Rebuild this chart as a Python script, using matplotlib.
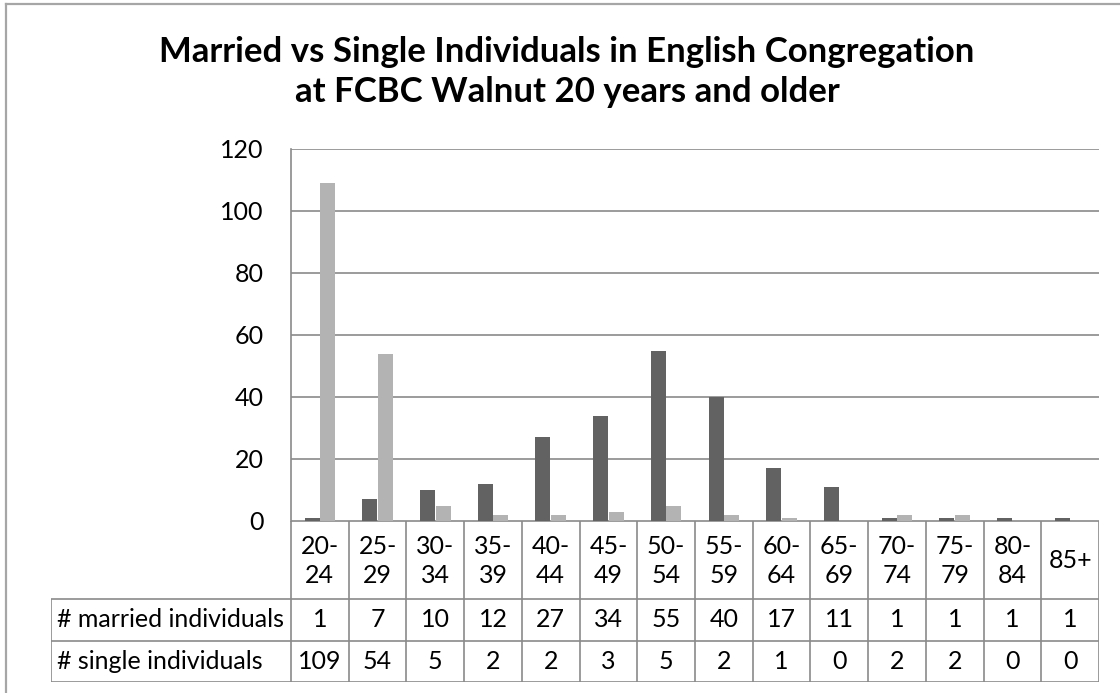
import matplotlib
matplotlib.use("Agg")
import matplotlib.pyplot as plt
from matplotlib.lines import Line2D

plt.rcParams['font.family'] = ['Lato', 'DejaVu Sans']

categories = ["20-\n24", "25-\n29", "30-\n34", "35-\n39", "40-\n44", "45-\n49", "50-\n54",
              "55-\n59", "60-\n64", "65-\n69", "70-\n74", "75-\n79", "80-\n84", "85+"]
married = [1, 7, 10, 12, 27, 34, 55, 40, 17, 11, 1, 1, 1, 1]
single = [109, 54, 5, 2, 2, 3, 5, 2, 1, 0, 2, 2, 0, 0]
series_names = ["# married individuals", "# single individuals"]
yticks = [0, 20, 40, 60, 80, 100, 120]
title = "Married vs Single Individuals in English Congregation\nat FCBC Walnut 20 years and older"

W, H = 1120, 693
fig = plt.figure(figsize=(W / 100, H / 100), dpi=100)
fig.patch.set_facecolor("white")

def rect(x0, y0, x1, y1):
    # pixel coords (top-left origin) -> figure fraction
    return [x0 / W, 1 - y1 / H, (x1 - x0) / W, (y1 - y0) / H]

GRID = "#8a8a8a"
DARK = "#626262"
LIGHT = "#b3b3b3"
FS = 18

# outer chart border
fig.add_artist(Line2D([6 / W, 6 / W], [0, 1 - 4 / H], transform=fig.transFigure, color="#a6a6a6", lw=1.6))
fig.add_artist(Line2D([6 / W, 1], [1 - 4 / H, 1 - 4 / H], transform=fig.transFigure, color="#a6a6a6", lw=1.6))

# plot area
px0, py0, px1, py1 = 291, 149, 1099, 521
ax = fig.add_axes(rect(px0, py0, px1, py1))
n = len(categories)
ax.set_xlim(0, n)
ax.set_ylim(0, 120)
bw = 0.26
xs = [i + 0.5 for i in range(n)]
ax.bar([x - 0.135 for x in xs], married, width=bw, color=DARK, zorder=3)
ax.bar([x + 0.135 for x in xs], single, width=bw, color=LIGHT, zorder=3)
ax.set_yticks(yticks)
ax.set_yticklabels([str(t) for t in yticks], fontsize=FS)
ax.tick_params(axis="y", length=0, pad=19.5)
ax.set_xticks([])
ax.grid(axis="y", color=GRID, lw=1.2, zorder=0)
for s in ["top", "right", "bottom"]:
    ax.spines[s].set_visible(False)
ax.spines["left"].set_color(GRID)
ax.spines["left"].set_linewidth(1.2)

# data table
tx0, tx1 = 51, 1099
ty0, ty1, ty2, ty3 = 521, 599, 641, 682
tab = fig.add_axes(rect(tx0, ty0, tx1, ty3))
colw = (px1 - px0) / n
lab_w = (px0 - tx0) / colw
tab.set_xlim(-lab_w, n)
tab.set_ylim(ty3, ty0)
tab.axis("off")
lk = dict(color=GRID, lw=1.2, solid_capstyle="butt")
tab.plot([0, n], [ty0, ty0], **lk)
for yy in (ty1, ty2, ty3):
    tab.plot([-lab_w, n], [yy, yy], **lk)
tab.plot([-lab_w, -lab_w], [ty1, ty3], **lk)
for i in range(n + 1):
    tab.plot([i, i], [ty0, ty3], **lk)
for i, c in enumerate(categories):
    tab.text(i + 0.5, (ty0 + ty1) / 2 + 1, c, ha="center", va="center", fontsize=FS, linespacing=1.3)
    tab.text(i + 0.5, (ty1 + ty2) / 2, str(married[i]), ha="center", va="center", fontsize=FS)
    tab.text(i + 0.5, (ty2 + ty3) / 2, str(single[i]), ha="center", va="center", fontsize=FS)
tab.text(-lab_w + 0.1, (ty1 + ty2) / 2, series_names[0], ha="left", va="center", fontsize=FS)
tab.text(-lab_w + 0.1, (ty2 + ty3) / 2, series_names[1], ha="left", va="center", fontsize=FS)

# title
fig.text(567 / W, 1 - 72 / H, title, ha="center", va="center", fontsize=25, fontweight="bold",
         linespacing=1.3)

fig.savefig("out.png", dpi=100)
